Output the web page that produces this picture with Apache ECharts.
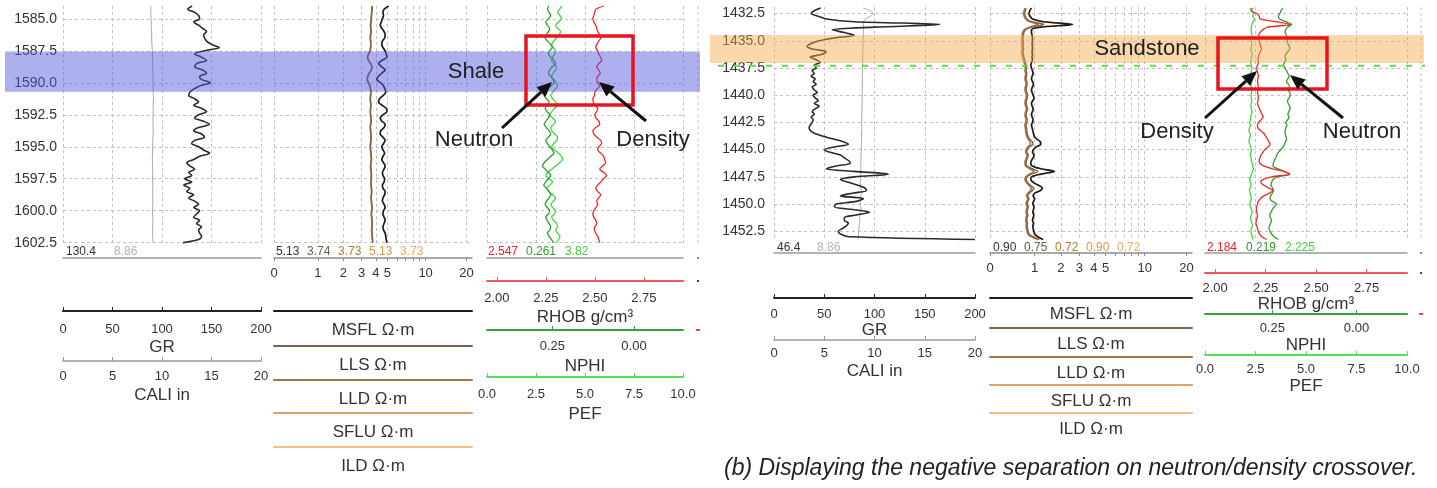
<!DOCTYPE html>
<html>
<head>
<meta charset="utf-8">
<title>Well log tracks - neutron/density crossover</title>
<script src="https://cdn.jsdelivr.net/npm/echarts@6/dist/echarts.min.js"></script>
<style>
  html, body { margin: 0; padding: 0; background: #ffffff; }
  #chart { width: 1437px; height: 488px; }
</style>
</head>
<body>
<div id="chart"></div>
<script>
// ---------------- log data: one sample every 0.25 m ----------------
const DEPTH_STEP = 0.25;
const DEPTH_A_START = 1584.0;
const DEPTH_B_START = 1432.0;

const DEPTH_TICKS_A = [1585.0, 1587.5, 1590.0, 1592.5, 1595.0, 1597.5, 1600.0, 1602.5];
const DEPTH_TICKS_B = [1432.5, 1435.0, 1437.5, 1440.0, 1442.5, 1445.0, 1447.5, 1450.0, 1452.5];

const RES_GRID_VALUES = [0, 1, 2, 3, 4, 5, 6, 7, 8, 9, 10, 20];
const RES_LABEL_VALUES = [0, 1, 2, 3, 4, 5, 10, 20];
const RHOB_TICKS = [2.00, 2.25, 2.50, 2.75];
const NPHI_TICKS = [0.25, 0.00];

const SHALE_ZONE_A = [1587.55, 1590.7];
const SAND_ZONE_B = [1434.48, 1437.05];
const CONTACT_B = 1437.3;

// ---- well A, 1584.0 - 1602.5 m ----
const GR_A = [130.4, 126, 133, 137, 138, 132, 137, 141, 145, 142,
  143, 145, 150, 158, 143, 133, 140, 145, 135, 133,
  141, 145, 138, 140, 149, 138, 132, 128, 127, 133,
  137, 132, 140, 145, 137, 133, 142, 148, 137, 132,
  140, 143, 133, 130, 137, 142, 148, 138, 132, 125,
  128, 133, 127, 130, 123, 130, 122, 128, 125, 132,
  127, 133, 137, 132, 138, 135, 132, 138, 135, 140,
  137, 138, 140, 137, 121];
const CALI_A = [8.86, 8.87, 8.88, 8.88, 8.9, 8.92, 8.9, 8.93, 8.95, 8.96,
  8.95, 8.97, 8.98, 9.0, 9.02, 9.03, 9.04, 9.05, 9.05, 9.06,
  9.08, 9.1, 9.09, 9.1, 9.12, 9.1, 9.1, 9.11, 9.13, 9.15,
  9.12, 9.1, 9.11, 9.13, 9.1, 9.08, 9.1, 9.09, 9.1, 9.12,
  9.1, 9.08, 9.07, 9.05, 9.06, 9.04, 9.05, 9.03, 9.02, 9.04,
  9.05, 9.06, 9.05, 9.04, 9.05, 9.07, 9.08, 9.06, 9.05, 9.06,
  9.07, 9.08, 9.06, 9.05, 9.04, 9.05, 9.06, 9.08, 9.07, 9.06,
  9.05, 9.04, 9.06, 9.07, 9.1];
const MSFL_A = [5.13, 4.7, 4.6, 4.65, 4.55, 4.45, 4.36, 4.5, 4.7, 4.8,
  4.75, 4.55, 4.5, 4.6, 4.8, 4.9, 4.96, 4.5, 4.22, 4.5,
  4.8, 4.5, 4.2, 4.08, 4.4, 4.65, 4.8, 4.85, 4.6, 4.3,
  4.22, 4.5, 4.9, 4.96, 4.6, 4.36, 4.5, 4.8, 4.7, 4.4,
  4.36, 4.6, 4.8, 4.65, 4.5, 4.6, 4.75, 4.6, 4.5, 4.65,
  4.8, 4.7, 4.55, 4.6, 4.75, 4.7, 4.55, 4.6, 4.8, 4.75,
  4.6, 4.55, 4.7, 4.8, 4.65, 4.6, 4.7, 4.8, 4.7, 4.6,
  4.65, 4.8, 4.85, 4.9, 4.96];
const LLS_A = [3.74, 3.72, 3.7, 3.68, 3.66, 3.64, 3.62, 3.63, 3.66, 3.62,
  3.6, 3.62, 3.63, 3.62, 3.57, 3.48, 3.4, 3.47, 3.62, 3.71,
  3.67, 3.52, 3.42, 3.38, 3.47, 3.57, 3.62, 3.64, 3.62, 3.6,
  3.62, 3.63, 3.62, 3.6, 3.62, 3.64, 3.66, 3.62, 3.6, 3.62,
  3.64, 3.66, 3.64, 3.62, 3.6, 3.62, 3.64, 3.66, 3.68, 3.64,
  3.62, 3.64, 3.66, 3.68, 3.66, 3.64, 3.66, 3.68, 3.7, 3.68,
  3.66, 3.68, 3.7, 3.72, 3.7, 3.68, 3.7, 3.72, 3.74, 3.72,
  3.7, 3.72, 3.74, 3.76, 3.77];
const LLD_A = [3.73, 3.7, 3.68, 3.66, 3.65, 3.62, 3.6, 3.62, 3.64, 3.6,
  3.58, 3.6, 3.62, 3.6, 3.55, 3.45, 3.38, 3.45, 3.6, 3.7,
  3.65, 3.5, 3.4, 3.36, 3.45, 3.55, 3.6, 3.62, 3.6, 3.58,
  3.6, 3.62, 3.6, 3.58, 3.6, 3.62, 3.64, 3.6, 3.58, 3.6,
  3.62, 3.65, 3.62, 3.6, 3.58, 3.6, 3.62, 3.64, 3.66, 3.62,
  3.6, 3.62, 3.64, 3.66, 3.64, 3.62, 3.64, 3.66, 3.68, 3.66,
  3.64, 3.66, 3.68, 3.7, 3.68, 3.66, 3.68, 3.7, 3.72, 3.7,
  3.68, 3.7, 3.72, 3.74, 3.75];
const SFLU_A = [5.13, 4.72, 4.63, 4.66, 4.57, 4.47, 4.39, 4.52, 4.72, 4.82,
  4.77, 4.57, 4.52, 4.62, 4.82, 4.92, 4.98, 4.53, 4.25, 4.52,
  4.82, 4.52, 4.23, 4.1, 4.42, 4.67, 4.82, 4.87, 4.62, 4.33,
  4.25, 4.52, 4.92, 4.98, 4.62, 4.39, 4.52, 4.82, 4.72, 4.42,
  4.39, 4.62, 4.82, 4.67, 4.52, 4.62, 4.77, 4.62, 4.52, 4.67,
  4.82, 4.72, 4.57, 4.62, 4.77, 4.72, 4.57, 4.62, 4.82, 4.77,
  4.62, 4.57, 4.72, 4.82, 4.67, 4.62, 4.72, 4.82, 4.72, 4.62,
  4.67, 4.82, 4.87, 4.92, 4.98];
const ILD_A = [3.73, 3.69, 3.67, 3.65, 3.64, 3.61, 3.59, 3.61, 3.63, 3.59,
  3.57, 3.59, 3.61, 3.59, 3.54, 3.44, 3.37, 3.44, 3.59, 3.69,
  3.64, 3.49, 3.39, 3.35, 3.44, 3.54, 3.59, 3.61, 3.59, 3.57,
  3.59, 3.61, 3.59, 3.57, 3.59, 3.61, 3.63, 3.59, 3.57, 3.59,
  3.61, 3.64, 3.61, 3.59, 3.57, 3.59, 3.61, 3.63, 3.65, 3.61,
  3.59, 3.61, 3.63, 3.65, 3.63, 3.61, 3.63, 3.65, 3.67, 3.65,
  3.63, 3.65, 3.67, 3.69, 3.67, 3.65, 3.67, 3.69, 3.71, 3.69,
  3.67, 3.69, 3.71, 3.73, 3.74];
const RHOB_A = [2.547, 2.505, 2.50, 2.495, 2.49, 2.495, 2.505, 2.51, 2.515, 2.525,
  2.53, 2.52, 2.51, 2.505, 2.515, 2.52, 2.53, 2.535, 2.52, 2.51,
  2.52, 2.528, 2.515, 2.51, 2.515, 2.525, 2.51, 2.50, 2.498, 2.49,
  2.492, 2.50, 2.515, 2.51, 2.50, 2.505, 2.52, 2.525, 2.505, 2.49,
  2.495, 2.51, 2.53, 2.535, 2.52, 2.515, 2.53, 2.545, 2.55, 2.555,
  2.54, 2.525, 2.545, 2.56, 2.545, 2.53, 2.515, 2.505, 2.515, 2.53,
  2.52, 2.51, 2.515, 2.505, 2.495, 2.49, 2.495, 2.505, 2.51, 2.50,
  2.498, 2.505, 2.515, 2.52, 2.525];
const NPHI_A = [0.261, 0.265, 0.26, 0.255, 0.262, 0.27, 0.265, 0.258, 0.262, 0.268,
  0.272, 0.265, 0.255, 0.25, 0.258, 0.262, 0.255, 0.245, 0.24, 0.25,
  0.258, 0.262, 0.255, 0.248, 0.245, 0.255, 0.265, 0.27, 0.275, 0.268,
  0.26, 0.265, 0.272, 0.266, 0.258, 0.262, 0.27, 0.275, 0.268, 0.26,
  0.255, 0.262, 0.27, 0.265, 0.258, 0.25, 0.245, 0.255, 0.265, 0.275,
  0.28, 0.272, 0.262, 0.255, 0.262, 0.27, 0.276, 0.268, 0.26, 0.255,
  0.26, 0.268, 0.272, 0.265, 0.258, 0.262, 0.27, 0.266, 0.26, 0.255,
  0.258, 0.265, 0.26, 0.252, 0.248];
const PEF_A = [3.82, 3.7, 3.6, 3.72, 3.8, 3.65, 3.5, 3.6, 3.75, 3.68,
  3.55, 3.4, 3.3, 3.38, 3.5, 3.45, 3.35, 3.3, 3.4, 3.55,
  3.5, 3.38, 3.3, 3.42, 3.55, 3.6, 3.48, 3.35, 3.25, 3.35,
  3.5, 3.6, 3.45, 3.3, 3.2, 3.35, 3.5, 3.4, 3.25, 3.3,
  3.45, 3.6, 3.55, 3.4, 3.3, 3.45, 3.65, 3.8, 3.85, 3.7,
  3.5, 3.3, 3.1, 3.0, 3.15, 3.35, 3.2, 3.05, 3.15, 3.35,
  3.5, 3.4, 3.25, 3.35, 3.5, 3.45, 3.3, 3.4, 3.55, 3.6,
  3.5, 3.6, 3.72, 3.65, 3.55];

// ---- well B, 1432.0 - 1453.25 m ----
const GR_B = [46.4, 40, 37, 44, 52, 80, 165, 100, 58, 70,
  80, 60, 45, 37, 33, 38, 52, 48, 36, 42,
  46, 40, 42, 38, 40, 37, 41, 39, 42, 38,
  40, 43, 39, 41, 44, 40, 45, 41, 38, 40,
  37, 39, 38, 36, 35, 36, 40, 48, 58, 68,
  74, 60, 50, 56, 66, 70, 74, 76, 62, 52,
  80, 114, 80, 66, 74, 83, 90, 92, 78, 66,
  89, 82, 62, 60, 78, 95, 82, 70, 70, 74,
  72, 68, 64, 66, 75, 200];
const CALI_B = [8.86, 9.6, 9.85, 9.6, 9.1, 8.92, 8.9, 8.9, 8.88, 8.9,
  8.88, 8.86, 8.85, 8.86, 8.85, 8.84, 8.85, 8.83, 8.82, 8.84,
  8.83, 8.82, 8.8, 8.82, 8.8, 8.78, 8.8, 8.79, 8.78, 8.8,
  8.77, 8.78, 8.76, 8.78, 8.75, 8.77, 8.76, 8.74, 8.76, 8.74,
  8.72, 8.74, 8.73, 8.72, 8.74, 8.72, 8.7, 8.72, 8.7, 8.72,
  8.7, 8.68, 8.7, 8.66, 8.68, 8.66, 8.64, 8.66, 8.62, 8.65,
  8.6, 8.64, 8.66, 8.6, 8.58, 8.62, 8.6, 8.7, 8.75, 8.62,
  8.58, 8.6, 8.56, 8.62, 8.68, 8.6, 8.55, 8.52, 8.55, 8.5,
  8.48, 8.45, 8.42, 8.4, 8.38, 8.35];
const MSFL_B = [0.90, 0.85, 0.83, 0.86, 0.93, 1.3, 2.6, 1.2, 0.9, 0.9,
  0.92, 0.93, 0.93, 0.92, 0.93, 0.93, 0.92, 0.93, 0.92, 0.93,
  0.9, 0.88, 0.9, 0.93, 0.95, 0.92, 0.9, 0.93, 0.96, 0.93,
  0.9, 0.92, 0.95, 0.98, 0.94, 0.9, 0.92, 0.95, 0.93, 0.9,
  0.92, 0.95, 0.93, 0.9, 0.92, 0.94, 0.96, 0.98, 1.05, 1.18,
  1.2, 1.05, 0.96, 0.93, 0.98, 0.95, 0.9, 0.88, 0.92, 1.2,
  1.72, 1.2, 0.9, 0.88, 0.95, 1.1, 1.25, 1.2, 1.0, 0.95,
  1.0, 0.96, 0.94, 0.98, 0.96, 0.94, 0.97, 0.95, 0.93, 0.96,
  0.94, 0.95, 0.97, 1.0, 1.1, 1.28];
const LLS_B = [0.75, 0.73, 0.71, 0.73, 0.77, 0.9, 1.3, 0.9, 0.73, 0.69,
  0.68, 0.67, 0.67, 0.68, 0.67, 0.68, 0.67, 0.68, 0.69, 0.71,
  0.73, 0.75, 0.76, 0.75, 0.77, 0.76, 0.75, 0.77, 0.78, 0.76,
  0.75, 0.77, 0.79, 0.78, 0.76, 0.75, 0.77, 0.79, 0.77, 0.75,
  0.76, 0.78, 0.77, 0.75, 0.76, 0.77, 0.78, 0.8, 0.84, 0.92,
  0.95, 0.84, 0.78, 0.77, 0.81, 0.79, 0.76, 0.75, 0.77, 0.92,
  1.1, 0.9, 0.77, 0.75, 0.79, 0.86, 0.96, 0.93, 0.84, 0.79,
  0.83, 0.8, 0.78, 0.81, 0.79, 0.78, 0.8, 0.78, 0.77, 0.79,
  0.78, 0.79, 0.81, 0.83, 0.95, 1.15];
const LLD_B = [0.72, 0.7, 0.68, 0.7, 0.74, 0.85, 1.12, 0.85, 0.7, 0.66,
  0.65, 0.64, 0.64, 0.65, 0.64, 0.65, 0.64, 0.65, 0.66, 0.68,
  0.7, 0.72, 0.73, 0.72, 0.74, 0.73, 0.72, 0.74, 0.75, 0.73,
  0.72, 0.74, 0.76, 0.75, 0.73, 0.72, 0.74, 0.76, 0.74, 0.72,
  0.73, 0.75, 0.74, 0.72, 0.73, 0.74, 0.75, 0.77, 0.8, 0.86,
  0.88, 0.8, 0.75, 0.74, 0.78, 0.76, 0.73, 0.72, 0.74, 0.85,
  0.98, 0.85, 0.74, 0.72, 0.76, 0.82, 0.9, 0.88, 0.8, 0.76,
  0.8, 0.77, 0.75, 0.78, 0.76, 0.75, 0.77, 0.75, 0.74, 0.76,
  0.75, 0.76, 0.78, 0.8, 0.9, 1.1];
const SFLU_B = [0.90, 0.86, 0.84, 0.87, 0.94, 1.25, 2.3, 1.15, 0.91, 0.91,
  0.93, 0.94, 0.94, 0.93, 0.94, 0.94, 0.93, 0.94, 0.93, 0.94,
  0.91, 0.89, 0.91, 0.94, 0.96, 0.93, 0.91, 0.94, 0.97, 0.94,
  0.91, 0.93, 0.96, 0.99, 0.95, 0.91, 0.93, 0.96, 0.94, 0.91,
  0.93, 0.96, 0.94, 0.91, 0.93, 0.95, 0.97, 0.99, 1.06, 1.15,
  1.17, 1.04, 0.97, 0.94, 0.99, 0.96, 0.91, 0.89, 0.93, 1.15,
  1.6, 1.15, 0.91, 0.89, 0.96, 1.1, 1.22, 1.18, 1.0, 0.96,
  1.0, 0.97, 0.95, 0.99, 0.97, 0.95, 0.98, 0.96, 0.94, 0.97,
  0.95, 0.96, 0.98, 1.01, 1.1, 1.25];
const ILD_B = [0.72, 0.69, 0.67, 0.69, 0.73, 0.83, 1.05, 0.82, 0.69, 0.65,
  0.64, 0.63, 0.63, 0.64, 0.63, 0.64, 0.63, 0.64, 0.65, 0.67,
  0.69, 0.71, 0.72, 0.71, 0.73, 0.72, 0.71, 0.73, 0.74, 0.72,
  0.71, 0.73, 0.75, 0.74, 0.72, 0.71, 0.73, 0.75, 0.73, 0.71,
  0.72, 0.74, 0.73, 0.71, 0.72, 0.73, 0.74, 0.76, 0.79, 0.84,
  0.86, 0.79, 0.74, 0.73, 0.77, 0.75, 0.72, 0.71, 0.73, 0.83,
  0.95, 0.83, 0.73, 0.71, 0.75, 0.81, 0.88, 0.86, 0.79, 0.75,
  0.79, 0.76, 0.74, 0.77, 0.75, 0.74, 0.76, 0.74, 0.73, 0.75,
  0.74, 0.75, 0.77, 0.79, 0.88, 1.06];
const RHOB_B = [2.184, 2.18, 2.206, 2.218, 2.222, 2.30, 2.375, 2.26, 2.235, 2.222,
  2.216, 2.214, 2.218, 2.222, 2.225, 2.23, 2.224, 2.218, 2.214, 2.212,
  2.214, 2.21, 2.206, 2.208, 2.212, 2.214, 2.212, 2.21, 2.212, 2.214,
  2.212, 2.21, 2.212, 2.214, 2.212, 2.21, 2.214, 2.22, 2.226, 2.232,
  2.238, 2.228, 2.215, 2.21, 2.212, 2.225, 2.24, 2.25, 2.258, 2.265,
  2.272, 2.262, 2.246, 2.236, 2.228, 2.222, 2.218, 2.222, 2.24, 2.28,
  2.34, 2.37, 2.28, 2.235, 2.226, 2.24, 2.262, 2.285, 2.27, 2.24,
  2.225, 2.214, 2.21, 2.206, 2.204, 2.206, 2.21, 2.208, 2.204, 2.202,
  2.206, 2.21, 2.214, 2.22, 2.232, 2.255];
const NPHI_B = [0.219, 0.224, 0.228, 0.232, 0.228, 0.21, 0.193, 0.205, 0.21, 0.212,
  0.208, 0.205, 0.206, 0.204, 0.2, 0.198, 0.204, 0.21, 0.212, 0.21,
  0.214, 0.217, 0.212, 0.208, 0.204, 0.2, 0.204, 0.208, 0.202, 0.199,
  0.203, 0.198, 0.197, 0.2, 0.205, 0.203, 0.199, 0.197, 0.201, 0.204,
  0.2, 0.204, 0.21, 0.207, 0.21, 0.212, 0.212, 0.21, 0.208, 0.21,
  0.214, 0.218, 0.225, 0.232, 0.237, 0.24, 0.244, 0.247, 0.248, 0.235,
  0.215, 0.2, 0.235, 0.248, 0.252, 0.254, 0.25, 0.247, 0.25, 0.255,
  0.257, 0.25, 0.238, 0.244, 0.25, 0.254, 0.258, 0.256, 0.252, 0.255,
  0.258, 0.26, 0.257, 0.252, 0.245, 0.232];
const PEF_B = [2.225, 2.3, 2.4, 2.36, 2.45, 2.38, 2.32, 2.3, 2.28, 2.3,
  2.33, 2.3, 2.28, 2.32, 2.3, 2.27, 2.3, 2.33, 2.3, 2.28,
  2.26, 2.3, 2.32, 2.3, 2.28, 2.3, 2.32, 2.29, 2.27, 2.3,
  2.33, 2.31, 2.28, 2.3, 2.32, 2.29, 2.27, 2.3, 2.33, 2.3,
  2.27, 2.24, 2.22, 2.25, 2.2, 2.18, 2.22, 2.25, 2.2, 2.18,
  2.22, 2.26, 2.3, 2.27, 2.24, 2.28, 2.3, 2.33, 2.36, 2.4,
  2.35, 2.3, 2.26, 2.22, 2.25, 2.28, 2.24, 2.2, 2.23, 2.27,
  2.3, 2.26, 2.22, 2.25, 2.3, 2.33, 2.3, 2.26, 2.28, 2.32,
  2.35, 2.3, 2.27, 2.3, 2.34, 2.38];

// ---------------- styling and layout ----------------
const FONT = '"Liberation Sans", Arial, Helvetica, sans-serif';
const INK = '#333333';
const GRID_LINE = { show: true, lineStyle: { color: '#c2c2c2', width: 1, type: [3, 3] } };
const RES_AXIS_MAX = 1.36;           // log10(1 + R) at the right edge of the resistivity track
const resT = v => Math.log10(1 + v);

const RES_STYLE = [
  { name: 'MSFL', line: '#1c1c1c', text: '#333333' },
  { name: 'LLS',  line: '#78634f', text: '#6e5a47' },
  { name: 'LLD',  line: '#a47548', text: '#ad7a44' },
  { name: 'SFLU', line: '#dda066', text: '#df964e' },
  { name: 'ILD',  line: '#f6bb80', text: '#f1a95e' }
];
const C_GR = '#2a2a2a', C_CALI = '#a9a9a9';
const C_RHOB = '#f0262b', C_NPHI = '#2e9d2e', C_PEF = '#3fd83f';

// [label margin, name gap] for each scale bar
const LAYOUT_A = {
  top: 6, height: 238, range: [1584.0, 1602.6],
  t1: [63, 198], t2: [274, 198], t3: [487, 196],
  headerOff: 14, grOff: 67, caliOff: 117, legendOff: [67, 102, 136, 169, 203],
  rhobOff: 37, nphiOff: 86, pefOff: 133,
  gr: [11.5, 28], cali: [9, 26], rhob: [11, 28], nphi: [10, 28], pef: [11, 29],
  legendGap: 10.5, depthMargin: 6, depthFont: 14, resMargin: 9,
  headerY: 252, hx1: [66, 114], hx2: 276, hx3: [488, 526, 565]
};
const LAYOUT_B = {
  top: 7, height: 233, range: [1431.9, 1453.3],
  t1: [774, 201], t2: [990, 202], t3: [1205, 202],
  headerOff: 13, grOff: 58, caliOff: 100, legendOff: [58, 88, 117, 145, 173],
  rhobOff: 33, nphiOff: 74, pefOff: 115,
  gr: [9.5, 22.5], cali: [7, 22.5], rhob: [9, 23], nphi: [8, 23], pef: [8, 23],
  legendGap: 8, depthMargin: 9, depthFont: 14, resMargin: 9,
  headerY: 248, hx1: [777, 817], hx2: 993, hx3: [1207, 1246, 1285]
};

const PANEL_A = { L: LAYOUT_A, start: DEPTH_A_START, ticks: DEPTH_TICKS_A,
  gr: GR_A, cali: CALI_A, res: [MSFL_A, LLS_A, LLD_A, SFLU_A, ILD_A], rhob: RHOB_A, nphi: NPHI_A, pef: PEF_A };
const PANEL_B = { L: LAYOUT_B, start: DEPTH_B_START, ticks: DEPTH_TICKS_B,
  gr: GR_B, cali: CALI_B, res: [MSFL_B, LLS_B, LLD_B, SFLU_B, ILD_B], rhob: RHOB_B, nphi: NPHI_B, pef: PEF_B };

// ---------------- option assembly ----------------
const grids = [], xAxes = [], yAxes = [], series = [];
const nameStyle = { fontSize: 17, color: INK, fontFamily: FONT };

function scaleAxis(grid, o) {
  const ax = {
    type: 'value', gridIndex: grid, position: 'bottom', offset: o.offset,
    min: o.min, max: o.max, inverse: !!o.inverse,
    axisLine: { show: true, onZero: false, lineStyle: { color: o.color, width: o.width || 2 } },
    axisTick: { show: true, inside: true, length: 4, lineStyle: { color: o.color, width: 1 } },
    axisLabel: { show: true, fontSize: 13, color: INK, fontFamily: FONT, margin: o.space[0] },
    splitLine: o.split ? GRID_LINE : { show: false },
    name: o.name, nameLocation: 'middle', nameGap: o.space[1], nameTextStyle: nameStyle
  };
  if (o.interval != null) ax.interval = o.interval;
  if (o.ticks) { ax.axisTick.customValues = o.ticks; ax.axisLabel.customValues = o.ticks; }
  if (o.formatter) ax.axisLabel.formatter = o.formatter;
  xAxes.push(ax);
  return xAxes.length - 1;
}

function plainAxis(L, grid, offset, color, width, name) {
  xAxes.push({
    type: 'value', gridIndex: grid, position: 'bottom', offset: offset, min: 0, max: 1,
    axisLine: { show: true, onZero: false, lineStyle: { color: color, width: width } },
    axisTick: { show: false }, axisLabel: { show: false }, splitLine: { show: false },
    name: name || '', nameLocation: 'middle', nameGap: L.legendGap, nameTextStyle: nameStyle
  });
  return xAxes.length - 1;
}

function curve(xi, yi, depth, values, color, width, transform) {
  series.push({
    type: 'line', xAxisIndex: xi, yAxisIndex: yi,
    data: values.map((v, i) => [transform ? transform(v) : v, depth[i]]),
    showSymbol: false, symbol: 'none', smooth: 0.3, silent: true, animation: false,
    lineStyle: { color: color, width: width }
  });
}

function buildPanel(P) {
  const L = P.L;
  const depth = P.gr.map((_, i) => P.start + i * DEPTH_STEP);
  const g = [L.t1, L.t2, L.t3].map(t => {
    grids.push({ left: t[0], top: L.top, width: t[1], height: L.height });
    return grids.length - 1;
  });
  const y = g.map((gi, k) => {
    yAxes.push({
      type: 'value', gridIndex: gi, inverse: true, min: L.range[0], max: L.range[1],
      axisLine: { show: false },
      axisTick: { show: false, customValues: P.ticks },
      axisLabel: { show: k === 0, customValues: P.ticks, formatter: v => v.toFixed(1),
        fontSize: L.depthFont, color: INK, fontFamily: FONT, margin: L.depthMargin },
      splitLine: GRID_LINE
    });
    return yAxes.length - 1;
  });

  // Track 1: gamma ray and caliper
  const xGR = scaleAxis(g[0], { min: 0, max: 200, interval: 50, offset: L.grOff, color: '#222', width: 2,
    name: 'GR', split: true, space: L.gr });
  const xCALI = scaleAxis(g[0], { min: 0, max: 20, interval: 5, offset: L.caliOff, color: '#9a9a9a', width: 1.5,
    name: 'CALI in', space: L.cali });
  plainAxis(L, g[0], L.headerOff, '#9a9a9a', 1.5);
  curve(xCALI, y[0], depth, P.cali, C_CALI, 1);
  curve(xGR, y[0], depth, P.gr, C_GR, 1.6);

  // Track 2: resistivity on a log(1 + R) scale
  xAxes.push({
    type: 'value', gridIndex: g[1], position: 'bottom', offset: L.headerOff, min: 0, max: RES_AXIS_MAX,
    axisLine: { show: true, onZero: false, lineStyle: { color: '#8c8c8c', width: 1.5 } },
    axisTick: { show: true, inside: false, length: 3, customValues: RES_GRID_VALUES.map(resT),
      lineStyle: { color: '#8c8c8c', width: 1 } },
    axisLabel: { show: true, customValues: RES_LABEL_VALUES.map(resT),
      formatter: v => String(Math.round(Math.pow(10, v) - 1)),
      fontSize: 13, color: INK, fontFamily: FONT, margin: L.resMargin },
    splitLine: GRID_LINE
  });
  const xRES = xAxes.length - 1;
  RES_STYLE.forEach((s, k) => plainAxis(L, g[1], L.legendOff[k], s.line, 2, s.name + ' \u03A9\u00B7m'));
  for (let k = RES_STYLE.length - 1; k >= 0; k--) {
    curve(xRES, y[1], depth, P.res[k], RES_STYLE[k].line, k === 0 ? 1.6 : 1.4, resT);
  }

  // Track 3: bulk density, neutron porosity, photo-electric factor
  plainAxis(L, g[2], L.headerOff, '#9a9a9a', 1.5);
  const xRHOB = scaleAxis(g[2], { min: 1.95, max: 2.95, ticks: RHOB_TICKS, offset: L.rhobOff, color: '#f25a5a', width: 2,
    name: 'RHOB g/cm\u00B3', formatter: v => v.toFixed(2), space: L.rhob });
  const xNPHI = scaleAxis(g[2], { min: -0.15, max: 0.45, inverse: true, ticks: NPHI_TICKS, offset: L.nphiOff,
    color: '#35a335', width: 2, name: 'NPHI', formatter: v => v.toFixed(2), space: L.nphi });
  const xPEF = scaleAxis(g[2], { min: 0, max: 10, interval: 2.5, offset: L.pefOff, color: '#55e055', width: 2,
    name: 'PEF', split: true, formatter: v => v.toFixed(1), space: L.pef });
  curve(xPEF, y[2], depth, P.pef, C_PEF, 1.3);
  curve(xNPHI, y[2], depth, P.nphi, C_NPHI, 1.3);
  curve(xRHOB, y[2], depth, P.rhob, C_RHOB, 1.3);

  return { y: y };
}

const built = [buildPanel(PANEL_A), buildPanel(PANEL_B)];

const chart = echarts.init(document.getElementById('chart'), null, { renderer: 'canvas' });
chart.setOption({
  animation: false,
  backgroundColor: '#ffffff',
  grid: grids, xAxis: xAxes, yAxis: yAxes, series: series
});

// ---------------- zone shading, readouts and annotations ----------------
const sig4 = v => String(parseFloat(v.toPrecision(4)));
const yAt = (panel, d) => chart.convertToPixel({ yAxisIndex: built[panel].y[2] }, d);

function text(x, y, str, color, size, extra) {
  return {
    type: 'text', z: 120, silent: true,
    style: Object.assign({ text: str, x: x, y: y, fill: color, fontSize: size, fontFamily: FONT,
      align: 'left', verticalAlign: 'middle' }, extra || {})
  };
}

function arrow(x1, y1, x2, y2) {
  const a = Math.atan2(y2 - y1, x2 - x1), len = 15, half = 6.5;
  const bx = x2 - len * Math.cos(a), by = y2 - len * Math.sin(a);
  const px = -Math.sin(a) * half, py = Math.cos(a) * half;
  return [
    { type: 'line', z: 120, silent: true, shape: { x1: x1, y1: y1, x2: bx, y2: by },
      style: { stroke: '#111', lineWidth: 3 } },
    { type: 'polygon', z: 120, silent: true, shape: { points: [[x2, y2], [bx + px, by + py], [bx - px, by - py]] },
      style: { fill: '#111' } }
  ];
}

function readouts(P) {
  const L = P.L, out = [];
  out.push(text(L.hx1[0], L.headerY, sig4(P.gr[0]), '#333', 12));
  out.push(text(L.hx1[1], L.headerY, sig4(P.cali[0]), '#b3b3b3', 12));
  P.res.forEach((arr, k) => out.push(text(L.hx2 + 31 * k, L.headerY, arr[0].toFixed(2), RES_STYLE[k].text, 12)));
  out.push(text(L.hx3[0], L.headerY, sig4(P.rhob[0]), '#e8232a', 12));
  out.push(text(L.hx3[1], L.headerY, sig4(P.nphi[0]), '#2f982f', 12));
  out.push(text(L.hx3[2], L.headerY, sig4(P.pef[0]), '#3ed23e', 12));
  return out;
}

function stub(x, y0, y1, marks) {
  const els = [{ type: 'line', z: 5, silent: true, shape: { x1: x, y1: y0, x2: x, y2: y1 },
    style: { stroke: '#c2c2c2', lineWidth: 1, lineDash: [3, 3] } }];
  marks.forEach(m => els.push({ type: 'line', z: 5, silent: true,
    shape: { x1: x - m[2], y1: m[0], x2: x + m[2], y2: m[0] }, style: { stroke: m[1], lineWidth: 2 } }));
  return els;
}

const aTop = yAt(0, SHALE_ZONE_A[0]), aBot = yAt(0, SHALE_ZONE_A[1]);
const bTop = yAt(1, SAND_ZONE_B[0]), bBot = yAt(1, SAND_ZONE_B[1]);
const contactY = yAt(1, CONTACT_B);

const graphics = [
  // shale interval (well A)
  { type: 'rect', z: 100, silent: true, shape: { x: 5, y: aTop, width: 695, height: aBot - aTop },
    style: { fill: 'rgba(84, 88, 222, 0.48)' } },
  // sandstone interval (well B)
  { type: 'rect', z: 100, silent: true, shape: { x: 710, y: bTop, width: 714, height: bBot - bTop },
    style: { fill: 'rgba(244, 168, 76, 0.45)' } },
  { type: 'line', z: 101, silent: true, shape: { x1: 718, y1: contactY, x2: 1425, y2: contactY },
    style: { stroke: '#62d84f', lineWidth: 2, lineDash: [6, 10] } },

  // annotations, well A
  text(476, 72, 'Shale', '#222', 22, { align: 'center' }),
  { type: 'rect', z: 115, silent: true, shape: { x: 526, y: 36, width: 107, height: 69 },
    style: { fill: 'none', stroke: '#ea1320', lineWidth: 3.5 } },
  text(474, 140, 'Neutron', '#222', 22, { align: 'center' }),
  text(653, 140, 'Density', '#222', 22, { align: 'center' }),
  ...arrow(502, 128, 552, 82),
  ...arrow(646, 121, 599, 82),

  // annotations, well B
  text(1147, 49, 'Sandstone', '#222', 22, { align: 'center' }),
  { type: 'rect', z: 115, silent: true, shape: { x: 1218, y: 38, width: 109, height: 51 },
    style: { fill: 'none', stroke: '#ea1320', lineWidth: 3.5 } },
  text(1177, 132, 'Density', '#222', 22, { align: 'center' }),
  text(1362, 132, 'Neutron', '#222', 22, { align: 'center' }),
  ...arrow(1205, 118, 1257, 71),
  ...arrow(1343, 118, 1290, 75),

  // edge of the next track
  ...stub(698, 6, 244, [[258, '#888', 1], [281, '#444', 1], [330, '#f44', 2]]),
  ...stub(1421, 7, 240, [[253, '#888', 1], [273, '#444', 1], [314, '#f44', 2]]),

  ...readouts(PANEL_A),
  ...readouts(PANEL_B),

  text(724, 469, '(b) Displaying the negative separation on neutron/density crossover.', '#222', 23,
    { fontStyle: 'italic' })
];

chart.setOption({ graphic: { elements: graphics } });
</script>
</body>
</html>
